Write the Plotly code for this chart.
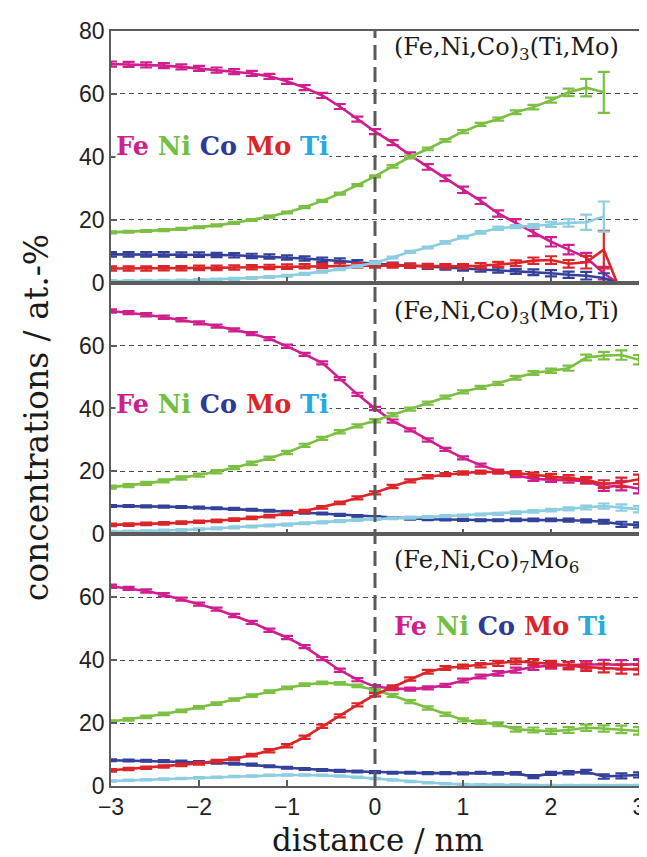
import plotly.graph_objects as go
from plotly.subplots import make_subplots

# ---------------- data ----------------
x1 = [-3.0, -2.8, -2.6, -2.4, -2.2, -2.0, -1.8, -1.6, -1.4, -1.2, -1.0, -0.8, -0.6, -0.4, -0.2,
      0.0, 0.2, 0.4, 0.6, 0.8, 1.0, 1.2, 1.4, 1.6, 1.8, 2.0, 2.2, 2.4, 2.6, 2.75]
x23 = [-3.0, -2.8, -2.6, -2.4, -2.2, -2.0, -1.8, -1.6, -1.4, -1.2, -1.0, -0.8, -0.6, -0.4, -0.2,
       0.0, 0.2, 0.4, 0.6, 0.8, 1.0, 1.2, 1.4, 1.6, 1.8, 2.0, 2.2, 2.4, 2.6, 2.8, 3.0]

# panel 1: (Fe,Ni,Co)3(Ti,Mo)
fe1 = [69.5, 69.4, 69.2, 69.0, 68.6, 68.1, 67.6, 67.1, 66.5, 65.6, 64.0, 62.0, 59.5, 56.0, 52.0,
       48.0, 44.5, 40.5, 36.8, 33.2, 29.5, 26.0, 22.0, 19.0, 16.0, 13.0, 10.5, 8.0, 3.0, 0.0]
ni1 = [16.0, 16.2, 16.4, 16.7, 17.1, 17.6, 18.2, 19.0, 19.9, 21.0, 22.3, 24.0, 26.0, 28.3, 31.0,
       33.8, 37.0, 40.0, 42.5, 45.2, 48.0, 50.3, 52.0, 54.2, 55.8, 58.0, 60.5, 62.0, 60.5, None]
co1 = [9.0, 9.0, 9.0, 9.0, 8.9, 8.9, 8.8, 8.7, 8.5, 8.3, 8.0, 7.7, 7.3, 7.0, 6.5,
       6.0, 5.7, 5.4, 5.1, 4.8, 4.5, 4.2, 4.0, 3.6, 3.3, 3.0, 2.5, 2.2, 1.5, 0.0]
mo1 = [4.5, 4.5, 4.5, 4.6, 4.6, 4.7, 4.7, 4.8, 4.9, 5.0, 5.1, 5.2, 5.3, 5.4, 5.5,
       5.5, 5.5, 5.4, 5.3, 5.2, 5.2, 5.4, 5.8, 6.2, 7.0, 7.2, 6.0, 6.5, 10.5, 0.0]
ti1 = [0.5, 0.5, 0.6, 0.6, 0.7, 0.8, 1.0, 1.2, 1.5, 1.8, 2.2, 2.8, 3.5, 4.3, 5.2,
       6.3, 8.0, 9.8, 11.2, 12.8, 14.5, 16.0, 17.3, 17.8, 18.0, 18.5, 19.0, 19.2, 21.0, None]
fe1_err = [0.8, 0.8, 0.8, 0.8, 0.8, 0.8, 0.8, 0.8, 0.8, 0.8, 0.8, 0.8, 0.8, 0.8, 0.8,
           0.8, 0.8, 0.9, 0.9, 0.9, 1.0, 1.0, 1.0, 1.2, 1.2, 1.5, 1.5, 1.5, 2.0, 0.0]
ni1_err = [0.3, 0.3, 0.3, 0.3, 0.3, 0.3, 0.3, 0.3, 0.3, 0.3, 0.3, 0.3, 0.3, 0.3, 0.3,
           0.3, 0.4, 0.4, 0.4, 0.4, 0.5, 0.5, 0.5, 0.6, 0.7, 0.8, 1.2, 2.8, 6.5, 0.0]
co1_err = [0.7, 0.7, 0.7, 0.7, 0.7, 0.7, 0.7, 0.7, 0.7, 0.7, 0.7, 0.7, 0.7, 0.7, 0.7,
           0.7, 0.7, 0.7, 0.7, 0.7, 0.7, 0.7, 0.8, 0.8, 0.9, 1.0, 1.0, 1.2, 1.5, 0.0]
mo1_err = [0.7, 0.7, 0.7, 0.7, 0.7, 0.7, 0.7, 0.7, 0.7, 0.7, 0.7, 0.7, 0.7, 0.7, 0.7,
           0.7, 0.7, 0.7, 0.7, 0.7, 0.7, 0.8, 0.8, 0.9, 1.0, 1.2, 1.2, 2.0, 6.0, 0.0]
ti1_err = [0.3, 0.3, 0.3, 0.3, 0.3, 0.3, 0.3, 0.3, 0.3, 0.3, 0.3, 0.3, 0.3, 0.3, 0.3,
           0.3, 0.3, 0.3, 0.3, 0.4, 0.4, 0.4, 0.5, 0.5, 0.6, 0.8, 1.2, 2.4, 4.8, 0.0]

# panel 2: (Fe,Ni,Co)3(Mo,Ti)
fe2 = [71.0, 70.5, 69.8, 69.0, 68.2, 67.2, 66.2, 65.0, 63.8, 62.2, 59.8, 57.2, 54.5, 49.5, 44.5,
       40.0, 36.0, 33.2, 30.0, 27.0, 24.3, 22.0, 20.1, 18.8, 17.6, 17.4, 17.2, 17.0, 15.0, 15.5, 14.5]
ni2 = [15.0, 15.5, 16.2, 17.0, 17.9, 18.8, 19.9, 21.2, 22.6, 24.2, 26.0, 28.3, 30.5, 32.6, 34.5,
       36.1, 38.0, 39.8, 41.7, 43.6, 45.3, 46.7, 48.0, 49.8, 51.3, 52.0, 52.8, 56.2, 56.8, 57.0, 55.5]
co2 = [9.0, 9.0, 8.9, 8.8, 8.7, 8.5, 8.3, 8.1, 7.8, 7.5, 7.2, 6.9, 6.6, 6.2, 5.8,
       5.5, 5.2, 5.0, 4.8, 4.7, 4.6, 4.5, 4.5, 4.6, 4.6, 4.6, 4.5, 4.3, 4.0, 3.2, 3.0]
mo2 = [3.0, 3.1, 3.3, 3.5, 3.7, 4.0, 4.3, 4.7, 5.2, 5.8, 6.5, 7.4, 8.6, 10.0, 11.6,
       13.2, 15.2, 17.0, 18.3, 19.0, 19.5, 19.8, 19.8, 19.5, 19.0, 18.5, 18.0, 17.3, 16.0, 16.5, 17.5]
ti2 = [0.8, 0.9, 1.0, 1.2, 1.4, 1.6, 1.9, 2.2, 2.5, 2.8, 3.1, 3.5, 3.8, 4.2, 4.6,
       4.9, 5.1, 5.3, 5.5, 5.8, 6.0, 6.3, 6.5, 6.9, 7.3, 7.7, 8.1, 8.5, 9.0, 8.5, 8.0]
fe2_err = [0.5, 0.5, 0.5, 0.5, 0.5, 0.5, 0.5, 0.5, 0.5, 0.5, 0.5, 0.5, 0.5, 0.5, 0.5,
           0.5, 0.5, 0.5, 0.5, 0.5, 0.5, 0.5, 0.5, 0.6, 0.6, 0.7, 0.8, 0.9, 1.2, 1.5, 1.5]
ni2_err = [0.5, 0.5, 0.5, 0.5, 0.5, 0.5, 0.5, 0.5, 0.5, 0.5, 0.5, 0.5, 0.5, 0.5, 0.5,
           0.5, 0.5, 0.5, 0.5, 0.5, 0.5, 0.5, 0.5, 0.6, 0.6, 0.7, 0.8, 0.9, 1.2, 1.5, 1.5]
co2_err = [0.3, 0.3, 0.3, 0.3, 0.3, 0.3, 0.3, 0.3, 0.3, 0.3, 0.3, 0.3, 0.3, 0.3, 0.3,
           0.3, 0.3, 0.3, 0.3, 0.3, 0.3, 0.3, 0.3, 0.4, 0.4, 0.4, 0.5, 0.5, 0.6, 0.8, 0.8]
mo2_err = [0.4, 0.4, 0.4, 0.4, 0.4, 0.4, 0.4, 0.4, 0.4, 0.4, 0.4, 0.4, 0.4, 0.4, 0.5,
           0.5, 0.5, 0.5, 0.5, 0.5, 0.5, 0.5, 0.5, 0.6, 0.6, 0.7, 0.8, 0.9, 1.2, 1.5, 1.5]
ti2_err = [0.3, 0.3, 0.3, 0.3, 0.3, 0.3, 0.3, 0.3, 0.3, 0.3, 0.3, 0.3, 0.3, 0.3, 0.3,
           0.3, 0.3, 0.3, 0.3, 0.3, 0.3, 0.3, 0.3, 0.4, 0.4, 0.4, 0.5, 0.6, 0.8, 1.0, 1.0]

# panel 3: (Fe,Ni,Co)7Mo6
fe3 = [63.5, 62.8, 62.0, 60.8, 59.4, 57.8, 56.2, 54.2, 52.0, 49.5, 47.2, 44.3, 40.5, 36.8, 33.8,
       31.6, 31.0, 30.8, 31.2, 32.0, 33.5, 34.8, 35.8, 36.8, 37.8, 38.3, 38.5, 38.5, 38.7, 38.5, 38.8]
ni3 = [20.5, 21.2, 22.0, 22.9, 23.9, 25.0, 26.2, 27.5, 28.7, 30.0, 31.2, 32.2, 32.8, 32.6, 31.8,
       30.5, 28.8, 26.8, 24.8, 22.8, 21.0, 20.3, 19.6, 18.0, 17.8, 17.4, 17.8, 18.5, 18.3, 18.0, 17.5]
co3 = [8.2, 8.1, 8.0, 7.9, 7.8, 7.6, 7.4, 7.1, 6.8, 6.3, 5.8, 5.4, 5.1, 4.8, 4.6,
       4.4, 4.2, 4.2, 4.1, 4.1, 4.0, 4.2, 4.0, 4.0, 3.0, 4.0, 4.2, 4.5, 3.0, 3.2, 3.5]
mo3 = [5.0, 5.4, 5.8, 6.2, 6.7, 7.2, 7.9, 8.7, 9.8, 11.2, 12.8, 15.5, 19.0, 22.3, 25.8,
       29.0, 31.5, 34.0, 36.3, 37.5, 38.0, 38.4, 39.0, 39.6, 39.3, 38.8, 38.2, 37.8, 37.5, 37.2, 37.0]
ti3 = [1.6, 1.8, 2.0, 2.2, 2.4, 2.6, 2.8, 3.0, 3.2, 3.4, 3.5, 3.5, 3.4, 3.2, 2.8,
       2.4, 1.9, 1.4, 1.0, 0.7, 0.5, 0.4, 0.3, 0.3, 0.2, 0.2, 0.2, 0.2, 0.2, 0.2, 0.2]
fe3_err = [0.5, 0.5, 0.5, 0.5, 0.5, 0.5, 0.5, 0.5, 0.5, 0.5, 0.5, 0.5, 0.5, 0.5, 0.5,
           0.5, 0.5, 0.5, 0.5, 0.5, 0.6, 0.6, 0.7, 0.8, 0.9, 1.0, 1.0, 1.2, 1.4, 1.5, 1.5]
ni3_err = [0.4, 0.4, 0.4, 0.4, 0.4, 0.4, 0.4, 0.4, 0.4, 0.4, 0.4, 0.4, 0.4, 0.4, 0.4,
           0.4, 0.5, 0.5, 0.5, 0.5, 0.5, 0.6, 0.6, 0.7, 0.8, 0.8, 0.9, 1.0, 1.0, 1.2, 1.2]
co3_err = [0.3, 0.3, 0.3, 0.3, 0.3, 0.3, 0.3, 0.3, 0.3, 0.3, 0.3, 0.3, 0.3, 0.3, 0.3,
           0.3, 0.3, 0.3, 0.3, 0.3, 0.3, 0.3, 0.4, 0.4, 0.5, 0.5, 0.5, 0.6, 0.7, 0.8, 0.8]
mo3_err = [0.4, 0.4, 0.4, 0.4, 0.4, 0.4, 0.4, 0.4, 0.4, 0.5, 0.5, 0.5, 0.5, 0.5, 0.5,
           0.5, 0.5, 0.5, 0.6, 0.6, 0.6, 0.7, 0.8, 0.9, 1.0, 1.0, 1.1, 1.2, 1.4, 1.5, 1.5]
ti3_err = [0.2, 0.2, 0.2, 0.2, 0.2, 0.2, 0.2, 0.2, 0.2, 0.2, 0.2, 0.2, 0.2, 0.2, 0.2,
           0.2, 0.2, 0.2, 0.2, 0.2, 0.2, 0.2, 0.2, 0.2, 0.2, 0.2, 0.2, 0.2, 0.2, 0.2, 0.2]

elements = ["Fe", "Ni", "Co", "Mo", "Ti"]
line_colors = ["#cf1f8e", "#7cc043", "#33419b", "#dc2529", "#8ccde2"]
label_colors = ["#cf1f8e", "#72bf44", "#2e3a96", "#dc2529", "#27aae1"]
panel_titles = ["(Fe,Ni,Co)<sub>3</sub>(Ti,Mo)", "(Fe,Ni,Co)<sub>3</sub>(Mo,Ti)",
                "(Fe,Ni,Co)<sub>7</sub>Mo<sub>6</sub>"]
x_ticks = [-3, -2, -1, 0, 1, 2, 3]
x_tick_text = ["\u22123", "\u22122", "\u22121", "0", "1", "2", "3"]
y_ticks_top = [0, 20, 40, 60, 80]
y_ticks = [0, 20, 40, 60]

panels = [
    (x1, [fe1, ni1, co1, mo1, ti1], [fe1_err, ni1_err, co1_err, mo1_err, ti1_err]),
    (x23, [fe2, ni2, co2, mo2, ti2], [fe2_err, ni2_err, co2_err, mo2_err, ti2_err]),
    (x23, [fe3, ni3, co3, mo3, ti3], [fe3_err, ni3_err, co3_err, mo3_err, ti3_err]),
]

# ---------------- figure ----------------
fig = make_subplots(rows=3, cols=1, shared_xaxes=True, vertical_spacing=0)

for r, (xs, series, errs) in enumerate(panels, start=1):
    for name, ys, es, col in zip(elements, series, errs, line_colors):
        fig.add_trace(go.Scatter(
            x=xs, y=ys, mode="lines", name=name, showlegend=False,
            line=dict(color=col, width=2.6),
            error_y=dict(type="data", array=es, visible=True, color=col,
                         thickness=2.2, width=6),
        ), row=r, col=1)

axis_col = "#5c5c5c"
tick_font = dict(family="Liberation Sans, Arial, sans-serif", size=23, color="#222222")

for r in range(1, 4):
    fig.update_xaxes(range=[-3, 3], tickvals=x_ticks, ticktext=x_tick_text,
                     ticks="inside", ticklen=6,
                     tickcolor=axis_col, tickwidth=1.5, showline=True, linecolor=axis_col,
                     linewidth=1.5, mirror=True, showgrid=False, zeroline=False,
                     tickfont=tick_font, row=r, col=1)
    fig.update_yaxes(range=[0, 80], tickvals=(y_ticks_top if r == 1 else y_ticks),
                     ticks="inside", ticklen=6, tickcolor=axis_col, tickwidth=1.5,
                     showline=True, linecolor=axis_col, linewidth=1.5, mirror=True,
                     showgrid=True, gridcolor="#4a4a4a", gridwidth=1, griddash="5px,4px",
                     zeroline=False, tickfont=tick_font, row=r, col=1)

# vertical dashed interface line at x = 0
fig.add_shape(type="line", xref="x", yref="paper", x0=0, x1=0, y0=0, y1=1,
              line=dict(color="#5a5a5a", width=3, dash="15px,7px"), layer="above")

serif = "DejaVu Serif, serif"
legend_html = " ".join(
    f"<span style='color:{c}'>{e}</span>" for e, c in zip(elements, label_colors))

# panel titles
title_pos = [(0.2, 74.5, "y"), (0.2, 70.5, "y2"), (0.2, 71.4, "y3")]
for (tx, ty, yr), t in zip(title_pos, panel_titles):
    fig.add_annotation(x=tx, y=ty, xref="x", yref=yr, text=t, showarrow=False,
                       xanchor="left", yanchor="middle", bgcolor="white", borderpad=0,
                       font=dict(family=serif, size=24, color="#1a1a1a"))

# element legends
leg_pos = [(-2.96, 43.3, "y"), (-2.96, 41.3, "y2"), (0.2, 51.0, "y3")]
for lx, ly, yr in leg_pos:
    fig.add_annotation(x=lx, y=ly, xref="x", yref=yr, text="<b>" + legend_html + "</b>",
                       showarrow=False,
                       xanchor="left", yanchor="middle", bgcolor="white", borderpad=0,
                       font=dict(family=serif, size=25.5))

# axis titles
fig.add_annotation(x=-0.142, y=0.487, xref="paper", yref="paper",
                   text="concentrations / at.-%", textangle=-90, showarrow=False,
                   xanchor="center", yanchor="middle",
                   font=dict(family=serif, size=33, color="#1a1a1a"))
fig.add_annotation(x=0.505, y=-0.097, xref="paper", yref="paper",
                   text="distance / nm", showarrow=False,
                   xanchor="center", yanchor="bottom", borderpad=0,
                   font=dict(family=serif, size=31, color="#1a1a1a"))

fig.update_layout(width=647, height=857, margin=dict(l=103, r=10, t=21, b=79),
                  paper_bgcolor="white", plot_bgcolor="white", showlegend=False)

fig.write_html("out.html")
